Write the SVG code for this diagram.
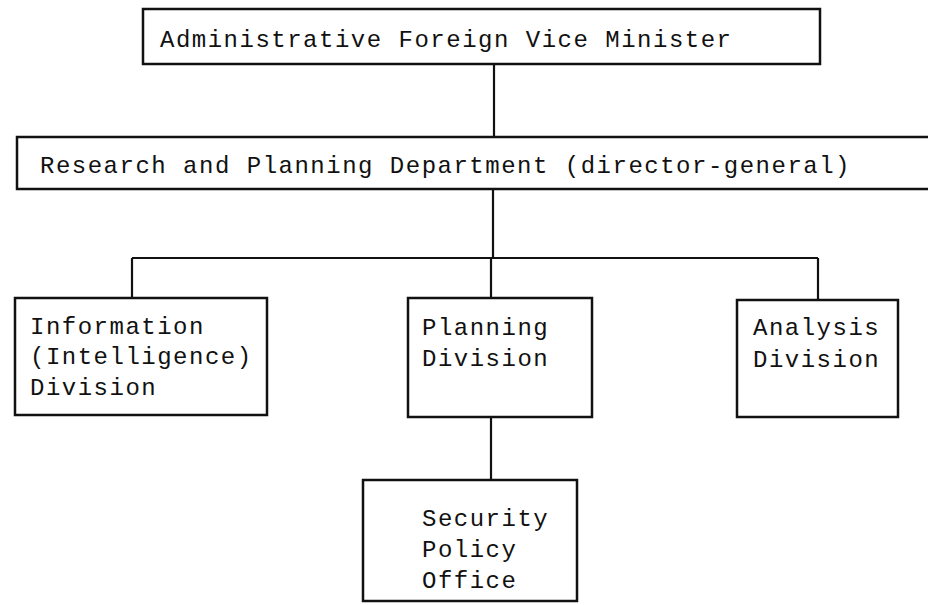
<svg xmlns="http://www.w3.org/2000/svg" width="928" height="605" viewBox="0 0 928 605">
<style>
.box{fill:none;stroke:#111;stroke-width:2.5}
.ln{fill:none;stroke:#111;stroke-width:2.2}
text{font-family:"Liberation Mono","DejaVu Sans Mono",monospace;font-size:24px;letter-spacing:1.5px;fill:#111}
</style>
<rect width="928" height="605" fill="#fff"/>
<g id="connectors">
<line class="ln" x1="494" y1="64" x2="494" y2="137"/>
<line class="ln" x1="493" y1="189" x2="493" y2="258"/>
<line class="ln" x1="132" y1="258" x2="818" y2="258"/>
<line class="ln" x1="132" y1="258" x2="132" y2="298"/>
<line class="ln" x1="491" y1="258" x2="491" y2="298"/>
<line class="ln" x1="818" y1="258" x2="818" y2="300"/>
<line class="ln" x1="491" y1="417" x2="491" y2="480"/>
</g>
<g id="vice-minister">
<rect class="box" x="143" y="9" width="677" height="55"/>
<text x="160" y="47">Administrative Foreign Vice Minister</text>
</g>
<g id="research-planning">
<path class="box" d="M928,137 H17 V189 H928"/>
<text x="40" y="173">Research and Planning Department (director-general)</text>
</g>
<g id="information-division">
<rect class="box" x="15" y="298" width="252" height="117"/>
<text x="30" y="334">Information</text>
<text x="30" y="364">(Intelligence)</text>
<text x="30" y="395">Division</text>
</g>
<g id="planning-division">
<rect class="box" x="408" y="298" width="184" height="119"/>
<text x="422" y="335">Planning</text>
<text x="422" y="366">Division</text>
</g>
<g id="analysis-division">
<rect class="box" x="737" y="300" width="161" height="117"/>
<text x="753" y="335">Analysis</text>
<text x="753" y="367">Division</text>
</g>
<g id="security-policy-office">
<rect class="box" x="363" y="480" width="214" height="121"/>
<text x="422" y="526">Security</text>
<text x="422" y="557">Policy</text>
<text x="422" y="588">Office</text>
</g>
</svg>
